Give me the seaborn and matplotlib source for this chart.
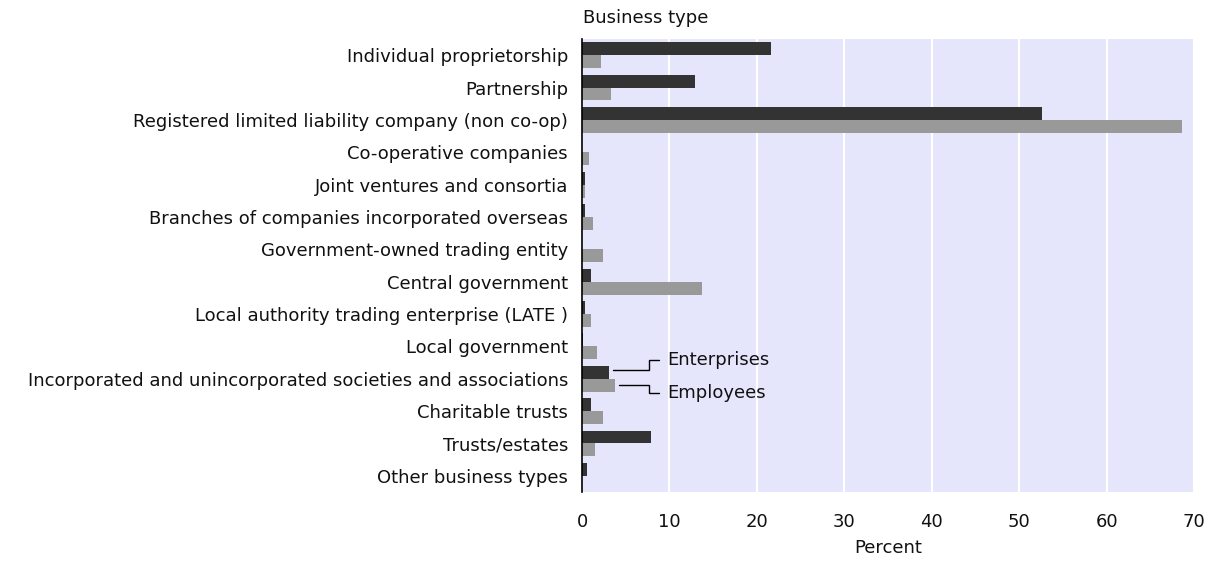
import pandas as pd
import matplotlib
matplotlib.use("Agg")
import matplotlib.pyplot as plt
import seaborn as sns

# Business types, top to bottom
business_types = [
    "Individual proprietorship",
    "Partnership",
    "Registered limited liability company (non co-op)",
    "Co-operative companies",
    "Joint ventures and consortia",
    "Branches of companies incorporated overseas",
    "Government-owned trading entity",
    "Central government",
    "Local authority trading enterprise (LATE )",
    "Local government",
    "Incorporated and unincorporated societies and associations",
    "Charitable trusts",
    "Trusts/estates",
    "Other business types",
]

# percent of all enterprises / employees
enterprises = [21.6, 12.9, 52.6, 0.05, 0.35, 0.3, 0.05, 1.0, 0.3, 0.1, 3.1, 1.0, 7.9, 0.6]
employees = [2.2, 3.3, 68.6, 0.8, 0.3, 1.3, 2.4, 13.7, 1.0, 1.7, 3.8, 2.4, 1.5, 0.05]

series_names = ["Enterprises", "Employees"]
series_colors = ["#333333", "#999999"]
x_ticks = [0, 10, 20, 30, 40, 50, 60, 70]
annotated_row = "Incorporated and unincorporated societies and associations"


def build_frame():
    """Long table for seaborn."""
    rows = []
    for name, values in zip(series_names, [enterprises, employees]):
        for cat, val in zip(business_types, values):
            rows.append({"Business type": cat, "Series": name, "Percent": val})
    return pd.DataFrame(rows)


def main():
    sns.set_style("white")
    plt.rcParams["font.family"] = ["DejaVu Sans"]
    fs = 13
    df = build_frame()

    fig = plt.figure(figsize=(12.09, 5.61), dpi=100)
    ax = fig.add_axes([0.4814, 0.123, 0.5062, 0.8075])
    ax.set_facecolor("#E5E5FC")

    sns.barplot(data=df, y="Business type", x="Percent", hue="Series",
                order=business_types, hue_order=series_names,
                palette=series_colors, orient="h", width=0.8,
                saturation=1, legend=False, ax=ax, zorder=3,
                edgecolor="none")

    ax.set_xlim(0, 70)
    ax.set_ylim(len(business_types) - 0.5, -0.5)
    ax.set_xticks(x_ticks)
    ax.xaxis.grid(True, color="white", linewidth=1.6, zorder=0)
    ax.set_axisbelow(True)
    for side in ["top", "right", "bottom"]:
        ax.spines[side].set_visible(False)
    ax.spines["left"].set_color("black")
    ax.spines["left"].set_linewidth(1.2)
    ax.spines["left"].set_zorder(5)
    ax.tick_params(axis="x", length=0, pad=15, labelsize=fs, colors="#111111")
    ax.tick_params(axis="y", length=0, pad=10, labelsize=fs, colors="#111111")
    ax.set_ylabel("")
    ax.set_xlabel("Percent", fontsize=fs, labelpad=6, color="#111111")

    fig.text(0.482, 0.968, "Business type", fontsize=fs, ha="left", va="center",
             color="#111111")

    # series labels drawn next to the annotated row
    idx = business_types.index(annotated_row)
    offsets = [-0.2, 0.2]
    text_y = [idx - 0.57, idx + 0.45]
    knee_x, tick_x, label_x = 7.7, 8.8, 9.8
    for k, name in enumerate(series_names):
        vals = enterprises if k == 0 else employees
        y0 = idx + offsets[k] - (0.08 if k == 0 else 0.0)
        ax.plot([vals[idx] + 0.45, knee_x, knee_x, tick_x],
                [y0, y0, text_y[k], text_y[k]],
                color="black", linewidth=1, zorder=4, solid_joinstyle="miter")
        ax.text(label_x, text_y[k], name, fontsize=fs, va="center", ha="left",
                color="#111111", zorder=4)

    fig.savefig("out.png", dpi=100)
    plt.close(fig)


if __name__ == "__main__":
    main()
